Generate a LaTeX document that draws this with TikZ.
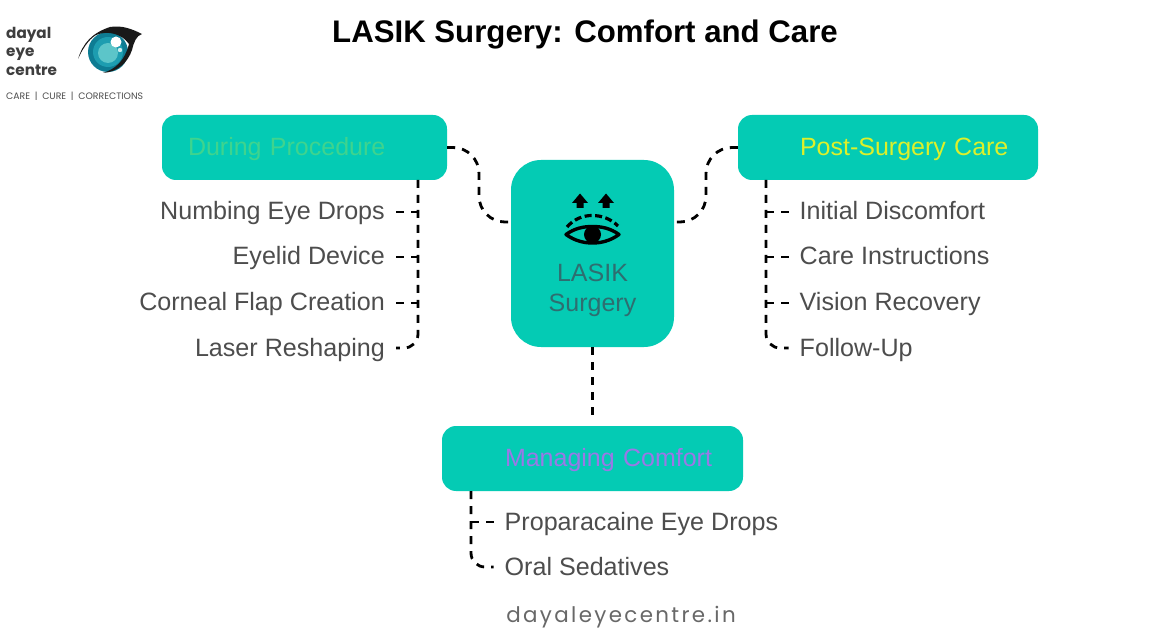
\documentclass[tikz,border=0pt]{standalone}
\usepackage{fontspec}
\setmainfont{Liberation Sans}
\newfontfamily\logofont{Poppins}
\newfontfamily\footfont[LetterSpace=11]{Poppins}
\definecolor{teal}{HTML}{04CBB4}
\definecolor{itemgray}{HTML}{4D4D4D}
\definecolor{lasikc}{HTML}{2E6E70}
\definecolor{gdur}{HTML}{3FD48E}
\definecolor{ypost}{HTML}{DDF02A}
\definecolor{pman}{HTML}{9A78E6}
\definecolor{irisd}{HTML}{0E7C93}
\definecolor{irisb}{HTML}{1D9DB0}
\definecolor{irisl}{HTML}{5CC5C9}
\tikzset{
 x=1pt,y=-1pt,
 head/.style={fill=teal,rounded corners=14pt,minimum height=65pt,align=left,font=\fontsize{25}{30}\selectfont,inner ysep=0pt,inner xsep=0pt,text height=20pt,text depth=4pt},
 leftitem/.style={anchor=east,inner ysep=0pt,inner xsep=11pt,text height=20pt,text depth=4pt,text=itemgray,font=\fontsize{25.1}{30}\selectfont},
 rightitem/.style={leftitem,anchor=west},
 conn/.style={draw=black,line width=2.8pt,dash pattern=on 8pt off 7pt},
}
\begin{document}
\begin{tikzpicture}
\useasboundingbox (0,0) rectangle (1170,628);
\fill[white] (0,0) rectangle (1170,628);
% title
\node[font=\fontsize{31.2}{34}\bfseries\selectfont,text=black,inner sep=0pt] (title) at (585,35) {LASIK Surgery: Comfort and Care};
% logo
\node[anchor=west,inner sep=0pt,align=left,text=itemgray!80!black,font=\logofont\fontsize{15.2}{18.5}\bfseries\selectfont] (logotext) at (6,51) {dayal\\eye\\centre};
\node[anchor=west,inner sep=0pt,text=itemgray,font=\logofont\fontsize{9.35}{11}\selectfont] (logotag) at (6,96) {CARE\,\,\,|\,\,\,CURE\,\,\,|\,\,\,CORRECTIONS};
\fill[irisd] (108,52) circle (20);
\fill[irisb] (108,52) circle (15);
\fill[irisl] (108,53) circle (10);
\fill[white] (116,42) circle (5.5);
\fill[white!70!irisl] (120,50) circle (2.2);
\fill[black!90] (78,59) .. controls (83,43) and (92,33) .. (110,27) .. controls (122,25) and (132,29) .. (142,34) .. controls (136,36) and (134,42) .. (132,50) .. controls (128,62) and (118,72) .. (103,73) .. controls (116,69) and (125,60) .. (129,44) .. controls (122,34) and (108,30) .. (96,35) .. controls (88,40) and (82,50) .. (78,59) -- cycle;
% boxes
\node[head,minimum width=285pt,text width=285pt,text=gdur] (dp) at (304.5,147.5) {\hspace*{26pt}During Procedure};
\node[head,minimum width=300pt,text width=300pt,text=ypost] (ps) at (888,147.5) {\hspace*{62pt}Post-Surgery Care};
\node[head,minimum width=301pt,text width=301pt,text=pman] (mc) at (592.5,458.5) {\hspace*{63pt}Managing Comfort};
\node[fill=teal,rounded corners=30pt,minimum width=163pt,minimum height=187pt,inner sep=0pt,align=center,text=lasikc,font=\fontsize{25}{30}\selectfont] (c) at (592.5,253.5) {\rule{0pt}{62pt}\\LASIK\\Surgery};
% icon
\fill[black] (580,193.5) -- (588,203) -- (583.5,203) -- (583.5,208) -- (576.5,208) -- (576.5,203) -- (572,203) -- cycle;
\fill[black] (606,193.5) -- (614,203) -- (609.5,203) -- (609.5,208) -- (602.5,208) -- (602.5,203) -- (598,203) -- cycle;
\draw[line width=3.2pt,dash pattern=on 7pt off 3.5pt] (567,227) .. controls (574,219) and (583,215.5) .. (592,215.5) .. controls (602,215.5) and (611,219) .. (618,226);
\draw[line width=3.4pt,fill=teal,line join=round] (566,234.5) .. controls (575,228) and (584,226.5) .. (592.5,226.5) .. controls (601,226.5) and (610,228) .. (619,234.5) .. controls (610,241) and (601,243) .. (592.5,243) .. controls (584,243) and (575,241) .. (566,234.5) -- cycle;
\fill[black] (592.5,234.5) circle (8.5);
% items
\node[leftitem] (a1) at (396,212) {Numbing Eye Drops};
\node[leftitem] (a2) at (396,257) {Eyelid Device};
\node[leftitem] (a3) at (396,303) {Corneal Flap Creation};
\node[leftitem] (a4) at (396,348) {Laser Reshaping};
\node[rightitem] (b1) at (788.5,212) {Initial Discomfort};
\node[rightitem] (b2) at (788.5,257) {Care Instructions};
\node[rightitem] (b3) at (788.5,303) {Vision Recovery};
\node[rightitem] (b4) at (788.5,348) {Follow-Up};
\node[rightitem] (m1) at (493.5,522) {Proparacaine Eye Drops};
\node[rightitem] (m2) at (493.5,567) {Oral Sedatives};
% footer
\node[inner sep=0pt,text=itemgray!85,font=\footfont\fontsize{21.4}{24}\selectfont] (foot) at (621,617) {dayaleyecentre.in};
% connector anchors
\coordinate (cl) at (511,222);
\coordinate (cr) at (674,222);
\coordinate (jl) at (479,222);
\coordinate (jr) at (706,222);
\coordinate (ta) at (418,180);
\coordinate (tb) at (766,180);
\coordinate (tm) at (471,491);
% connectors
\draw[conn,rounded corners=26pt] (dp.east) -| (jl) -- (cl);
\draw[conn,rounded corners=26pt] (ps.west) -| (jr) -- (cr);
\draw[conn,shorten >=9pt] (c.south) -- (mc.north);
\draw[conn,rounded corners=14pt] (ta) |- (a4.east);
\draw[conn] (a1.east) -- (a1.east -| ta);
\draw[conn] (a2.east) -- (a2.east -| ta);
\draw[conn] (a3.east) -- (a3.east -| ta);
\draw[conn,rounded corners=14pt] (tb) |- (b4.west);
\draw[conn] (b1.west) -- (b1.west -| tb);
\draw[conn] (b2.west) -- (b2.west -| tb);
\draw[conn] (b3.west) -- (b3.west -| tb);
\draw[conn,rounded corners=14pt] (tm) |- (m2.west);
\draw[conn] (m1.west) -- (m1.west -| tm);
\end{tikzpicture}
\end{document}
